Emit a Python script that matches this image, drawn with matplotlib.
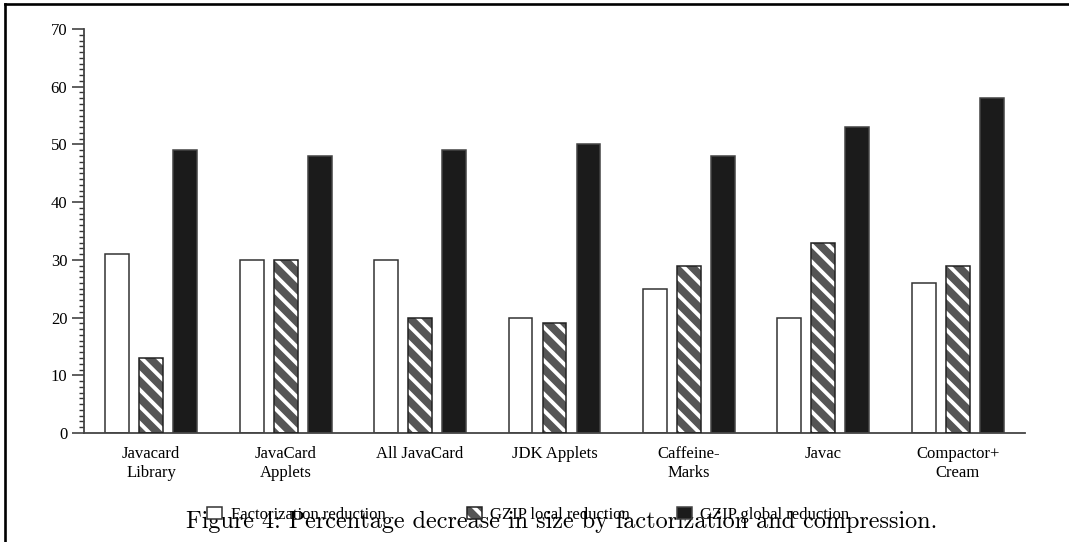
import matplotlib
matplotlib.use("Agg")
import matplotlib.pyplot as plt
from matplotlib.lines import Line2D
from matplotlib.legend_handler import HandlerTuple
from matplotlib.ticker import MultipleLocator
import numpy as np

categories = ["Javacard\nLibrary", "JavaCard\nApplets", "All JavaCard", "JDK Applets",
              "Caffeine-\nMarks", "Javac", "Compactor+\nCream"]
factorization = [31, 30, 30, 20, 25, 20, 26]
gzip_local = [13, 30, 20, 19, 29, 33, 29]
gzip_global = [49, 48, 49, 50, 48, 53, 58]
series_names = ["Factorization reduction", "GZIP local reduction", "GZIP global reduction"]
y_ticks = [0, 10, 20, 30, 40, 50, 60, 70]
caption = "Figure 4: Percentage decrease in size by factorization and compression."

plt.rcParams['hatch.color'] = 'white'
plt.rcParams['hatch.linewidth'] = 2.8

SERIF = ['Liberation Serif', 'DejaVu Serif']
FS = 12

fig = plt.figure(figsize=(10.69, 5.42), dpi=100)
ax = fig.add_axes([0.0786, 0.2011, 0.8802, 0.7454])

x = np.arange(len(categories))
w = 0.178
step = 0.253
edge = '#333333'

b1 = ax.bar(x - step, factorization, w, facecolor='white', edgecolor=edge, linewidth=1.1, zorder=2)
b2h = ax.bar(x, gzip_local, w, facecolor='#555555', edgecolor='white', hatch='\\\\', linewidth=0, zorder=2)
b2o = ax.bar(x, gzip_local, w, facecolor='none', edgecolor='#222222', linewidth=1.1, zorder=3)
b3 = ax.bar(x + step, gzip_global, w, facecolor='#1b1b1b', edgecolor='#444444', linewidth=1.1, zorder=2)

ax.set_xlim(-0.5, len(categories) - 0.5)
ax.set_ylim(0, 70)
ax.set_yticks(y_ticks)
ax.yaxis.set_minor_locator(MultipleLocator(1))
ax.set_xticks(x)
ax.set_xticklabels(categories, fontfamily=SERIF, fontsize=FS, linespacing=1.25)
ax.tick_params(axis='x', length=0, pad=9)
ax.tick_params(axis='y', which='major', length=8.5, width=1.1, color='#333333', direction='out', pad=3.5)
ax.tick_params(axis='y', which='minor', length=3.5, width=1.0, color='#333333', direction='out')
for lab in ax.get_yticklabels():
    lab.set_fontfamily(SERIF)
    lab.set_fontsize(FS)

for s in ['top', 'right']:
    ax.spines[s].set_visible(False)
for s in ['left', 'bottom']:
    ax.spines[s].set_color('#444444')
    ax.spines[s].set_linewidth(1.3)

# legend: three separate entries
handles = [b1.patches[0], (b2h.patches[0], b2o.patches[0]), b3.patches[0]]
xs = [0.194, 0.437, 0.633]
for h, name, xx in zip(handles, series_names, xs):
    fig.legend(handles=[h], labels=[name], loc='center left', bbox_to_anchor=(xx, 0.050),
               frameon=False, borderpad=0, borderaxespad=0, handlelength=0.9,
               handleheight=0.72, handletextpad=0.5,
               handler_map={tuple: HandlerTuple(ndivide=1, pad=0)},
               prop={'family': SERIF, 'size': FS})

fig.text(0.5253, 0.026, caption, ha='center', va='baseline', fontfamily='cmr10', fontsize=17.4)

# page frame (top and left edges)
fig.add_artist(Line2D([0.0047, 1.0], [0.9926, 0.9926], transform=fig.transFigure, color='black', linewidth=1.9))
fig.add_artist(Line2D([0.0047, 0.0047], [0.0, 0.9926], transform=fig.transFigure, color='black', linewidth=1.9))

fig.savefig('out.png', dpi=100)
